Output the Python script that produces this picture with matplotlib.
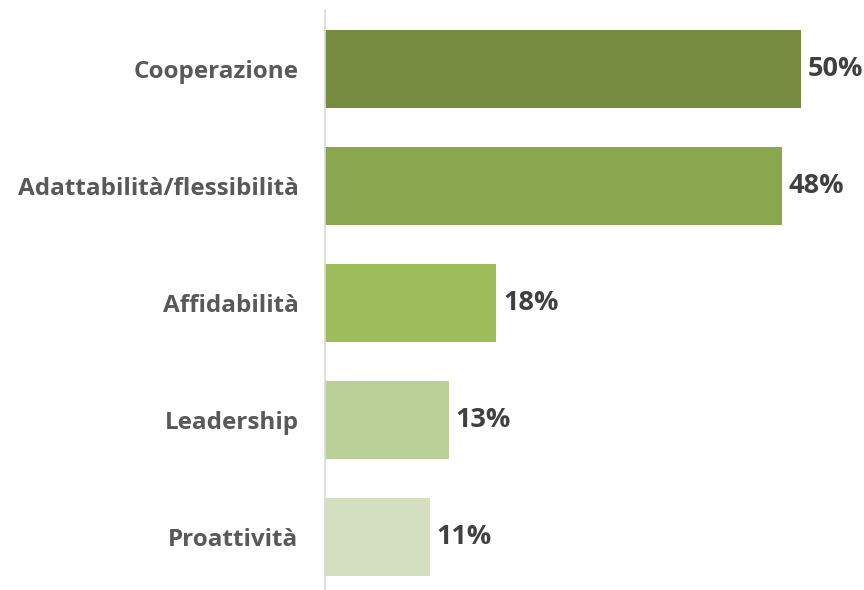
import matplotlib
matplotlib.use("Agg")
import matplotlib.pyplot as plt

# data
categories = ["Cooperazione", "Adattabilità/flessibilità", "Affidabilità", "Leadership", "Proattività"]
values = [50, 48, 18, 13, 11]
bar_colors = ["#768D41", "#8AA64F", "#9DBC5A", "#BBCF98", "#D3DFBE"]

plt.rcParams['font.family'] = ['Open Sans', 'DejaVu Sans']

fig = plt.figure(figsize=(8.64, 5.90), dpi=100)
ax = fig.add_axes([325 / 864, -6 / 590, 539 / 864, 586 / 590])

y = list(range(len(categories)))
ax.barh(y, values, height=0.665, color=bar_colors)

# value labels
for yi, v in zip(y, values):
    ax.text(v + 0.7, yi, f"{v}%", va="center", ha="left",
            fontsize=19.5, fontweight="bold", color="#404040")

ax.set_yticks(y)
ax.set_yticklabels(categories, fontsize=17.5, fontweight="bold", color="#595959")
ax.tick_params(axis="y", length=0, pad=19)
ax.set_xticks([])
ax.set_xlim(0, 56.6)
ax.set_ylim(4.5, -0.5)

for side in ["top", "right", "bottom"]:
    ax.spines[side].set_visible(False)
ax.spines["left"].set_color("#D9D9D9")
ax.spines["left"].set_linewidth(1.2)

fig.savefig("out.png", dpi=100)
